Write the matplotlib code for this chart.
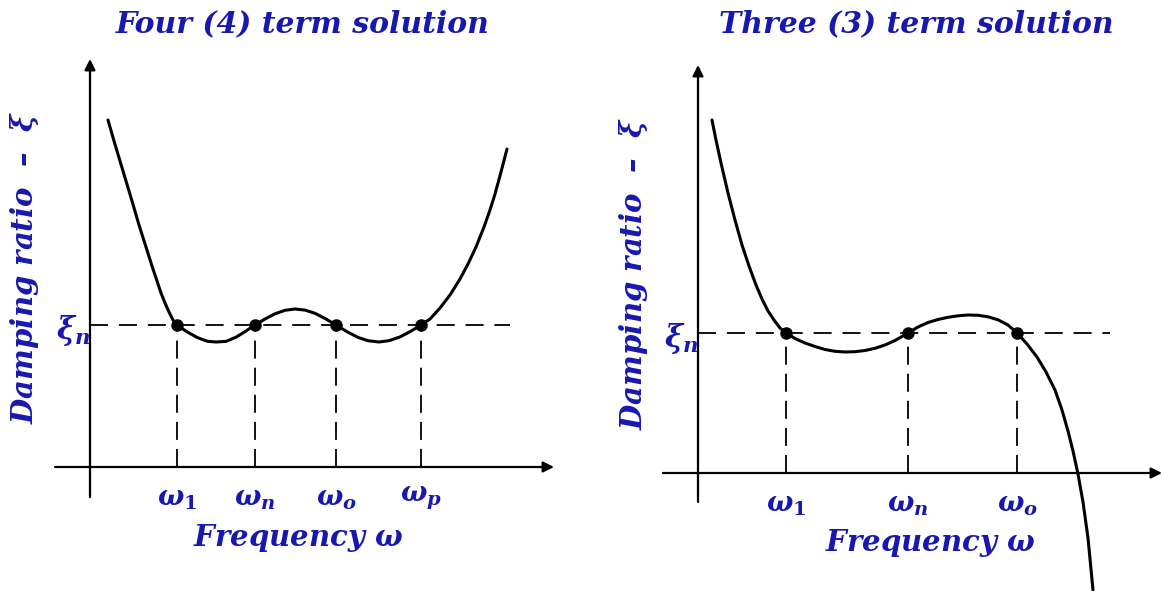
import matplotlib
matplotlib.use("Agg")
import matplotlib.pyplot as plt

# ---------------- data (arbitrary units, origin at the axis crossing) ----------------
# Left panel: four-term solution (curve)
left_curve_x = [0.18, 0.24, 0.30, 0.36, 0.42, 0.49, 0.56, 0.62, 0.67, 0.71, 0.75, 0.79, 0.83,
                0.87, 0.97, 1.07, 1.17, 1.26, 1.36, 1.46, 1.56,
                1.65, 1.75, 1.85, 1.95, 2.05, 2.15, 2.25, 2.36,
                2.46, 2.57, 2.68, 2.78, 2.89, 2.99, 3.10, 3.20,
                3.31, 3.40, 3.50, 3.60, 3.70, 3.78, 3.86, 3.94, 4.00, 4.05, 4.11, 4.17]
left_curve_y = [3.47, 3.26, 3.06, 2.86, 2.66, 2.42, 2.20, 2.01, 1.86, 1.74, 1.64, 1.55, 1.47,
                1.42, 1.352, 1.296, 1.258, 1.25, 1.256, 1.298, 1.36,
                1.42, 1.48, 1.532, 1.567, 1.58, 1.569, 1.537, 1.48,
                1.42, 1.353, 1.296, 1.263, 1.25, 1.263, 1.301, 1.353,
                1.42, 1.48, 1.59, 1.72, 1.88, 2.03, 2.20, 2.40, 2.57, 2.73, 2.95, 3.18]
left_xi_n = 1.42
left_freqs = [0.87, 1.65, 2.46, 3.31]
left_freq_labels = [r'$\omega_1$', r'$\omega_n$', r'$\omega_o$', r'$\omega_p$']

# Right panel: three-term solution
right_curve_x = [0.14, 0.18, 0.23, 0.30, 0.37, 0.44, 0.51, 0.58, 0.64, 0.70, 0.76, 0.82,
                 0.88, 0.97, 1.07, 1.17, 1.27, 1.37, 1.47, 1.57, 1.67, 1.77, 1.87, 1.97,
                 2.10, 2.20, 2.30, 2.40, 2.50, 2.60, 2.70, 2.80, 2.90, 3.00, 3.10,
                 3.19, 3.29, 3.39, 3.48, 3.57, 3.64, 3.70, 3.75, 3.80, 3.85, 3.90, 3.95]
right_curve_y = [3.53, 3.33, 3.10, 2.80, 2.53, 2.28, 2.07, 1.88, 1.74, 1.62, 1.53, 1.45,
                 1.40, 1.345, 1.30, 1.265, 1.235, 1.217, 1.21, 1.213, 1.225, 1.247, 1.28, 1.325,
                 1.40, 1.46, 1.505, 1.535, 1.557, 1.572, 1.58, 1.577, 1.562, 1.532, 1.48,
                 1.40, 1.29, 1.16, 1.01, 0.83, 0.63, 0.42, 0.22, -0.01, -0.29, -0.65, -1.17]
right_xi_n = 1.40
right_freqs = [0.88, 2.10, 3.19]
right_freq_labels = [r'$\omega_1$', r'$\omega_n$', r'$\omega_o$']

titles = ['Four (4) term solution', 'Three (3) term solution']
xlabel_text = r'Frequency $\omega$'
ylabel_text = r'Damping ratio  –  $\xi$'
xi_label = r'$\xi_n$'

BLUE = '#1818b0'
plt.rcParams['mathtext.fontset'] = 'custom'
plt.rcParams['mathtext.it'] = 'DejaVu Serif:italic:bold'
plt.rcParams['mathtext.rm'] = 'DejaVu Serif:bold'
plt.rcParams['mathtext.bf'] = 'DejaVu Serif:bold'
plt.rcParams['font.family'] = ['DejaVu Serif']

fig = plt.figure(figsize=(11.63, 5.91), dpi=100)
W, H = 1163.0, 591.0


def make_panel(px0, px1, ox, oy):
    ax = fig.add_axes([px0 / W, 0, (px1 - px0) / W, 1])
    ax.set_xlim((px0 - ox) / 100.0, (px1 - ox) / 100.0)
    ax.set_ylim((oy - H) / 100.0, oy / 100.0)
    ax.axis('off')
    return ax


panels = [
    dict(px=(0, 581), origin=(90, 467), cx=left_curve_x, cy=left_curve_y,
         xi=left_xi_n, freqs=left_freqs, flabels=left_freq_labels,
         xaxis=(-0.35, 4.64), yaxis=(-0.30, 4.08), xi_end=4.20, title=titles[0],
         title_cx=303, xlab_cx=298, xlab_y=538, ylab_x=25, ylab_y=268),
    dict(px=(581, 1163), origin=(698, 473), cx=right_curve_x, cy=right_curve_y,
         xi=right_xi_n, freqs=right_freqs, flabels=right_freq_labels,
         xaxis=(-0.35, 4.64), yaxis=(-0.29, 4.08), xi_end=4.12, title=titles[1],
         title_cx=916, xlab_cx=930, xlab_y=543, ylab_x=634, ylab_y=274),
]

for p in panels:
    ox, oy = p['origin']
    ax = make_panel(p['px'][0], p['px'][1], ox, oy)
    # axes with arrows
    ax.annotate('', xy=(p['xaxis'][1], 0), xytext=(p['xaxis'][0], 0),
                arrowprops=dict(arrowstyle='-|>', lw=1.6, color='black',
                                mutation_scale=16, shrinkA=0, shrinkB=0))
    ax.annotate('', xy=(0, p['yaxis'][1]), xytext=(0, p['yaxis'][0]),
                arrowprops=dict(arrowstyle='-|>', lw=1.6, color='black',
                                mutation_scale=16, shrinkA=0, shrinkB=0))
    # horizontal dashed xi_n line
    ax.plot([0, p['xi_end']], [p['xi'], p['xi']], color='black', lw=1.3,
            dashes=(10, 6))
    # vertical dashed lines
    for f in p['freqs']:
        ax.plot([f, f], [0, p['xi']], color='black', lw=1.3, dashes=(10, 5))
    # curve
    ax.plot(p['cx'], p['cy'], color='black', lw=2.2, solid_capstyle='round',
            solid_joinstyle='round')
    # dots
    ax.plot(p['freqs'], [p['xi']] * len(p['freqs']), 'o', color='black', ms=8)
    # frequency labels
    for f, lab in zip(p['freqs'], p['flabels']):
        ax.text(f, -0.31, lab, ha='center', va='center', color=BLUE, fontsize=20)
    # xi_n label
    ax.text(0.0, p['xi'] - 0.06, xi_label, ha='right', va='center', color=BLUE,
            fontsize=22)
    # title
    ax.text((p['title_cx'] - ox) / 100.0, (oy - 24) / 100.0, p['title'],
            ha='center', va='center', color=BLUE, fontsize=21.5,
            fontweight='bold', fontstyle='italic')
    # x label
    ax.text((p['xlab_cx'] - ox) / 100.0, (oy - p['xlab_y']) / 100.0, xlabel_text,
            ha='center', va='center', color=BLUE, fontsize=21,
            fontweight='bold', fontstyle='italic')
    # y label
    ax.text((p['ylab_x'] - ox) / 100.0, (oy - p['ylab_y']) / 100.0, ylabel_text,
            ha='center', va='center', rotation=90, color=BLUE, fontsize=21,
            fontweight='bold', fontstyle='italic')

fig.savefig('out.png', dpi=100)
